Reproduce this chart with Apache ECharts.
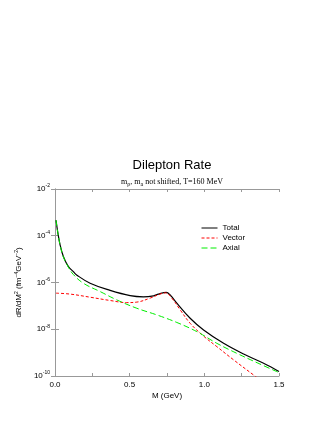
<!DOCTYPE html>
<html>
<head>
<meta charset="utf-8">
<script src="https://cdn.jsdelivr.net/npm/echarts@6/dist/echarts.min.js"></script>
<style>
  html, body { margin: 0; padding: 0; background: #fff; }
  #chart { width: 327px; height: 423px; }
</style>
</head>
<body>
<div id="chart"></div>
<script>
// values
var totalM = [0.007, 0.016, 0.034, 0.056, 0.089, 0.123, 0.145, 0.235, 0.369, 0.503, 0.592, 0.66, 0.693, 0.745, 0.771, 0.816, 0.905, 0.995, 1.129, 1.263, 1.397, 1.5];
var totalR = [4.6e-4, 1.8e-4, 4.1e-5, 1.3e-5, 4.9e-6, 2.9e-6, 2.1e-6, 9.3e-7, 4.6e-7, 2.75e-7, 2.45e-7, 2.7e-7, 3.2e-7, 3.8e-7, 2.95e-7, 1.3e-7, 2.95e-8, 9.3e-9, 2.5e-9, 8.7e-10, 3.5e-10, 1.55e-10];

var vectorM = [0.007, 0.1, 0.235, 0.369, 0.48, 0.548, 0.637, 0.704, 0.74, 0.782, 0.838, 0.905, 0.995, 1.084, 1.196, 1.33, 1.4];
var vectorR = [3.5e-7, 3.2e-7, 2.35e-7, 1.7e-7, 1.38e-7, 1.45e-7, 2.15e-7, 3.2e-7, 3.6e-7, 2.15e-7, 6.8e-8, 1.8e-8, 5.1e-9, 1.8e-9, 4.9e-10, 1.1e-10, 5e-11];

var axialM = [0.007, 0.016, 0.034, 0.056, 0.089, 0.123, 0.19, 0.302, 0.414, 0.548, 0.682, 0.816, 0.95, 1.084, 1.218, 1.353, 1.5];
var axialR = [4.6e-4, 1.8e-4, 4.1e-5, 1.26e-5, 4.6e-6, 2.2e-6, 9.3e-7, 4.1e-7, 1.8e-7, 7.9e-8, 4.1e-8, 1.95e-8, 7.9e-9, 2.5e-9, 9.3e-10, 3.7e-10, 1.4e-10];

var seriesNames = ['Total', 'Vector', 'Axial'];

function pairs(xs, ys) {
  return xs.map(function (x, i) { return [x, ys[i]]; });
}

var sans = 'Liberation Sans';
var frameColor = '#999';

var myChart = echarts.init(document.getElementById('chart'));

myChart.setOption({
  animation: false,
  backgroundColor: '#fff',
  title: [{
    text: 'Dilepton Rate',
    left: 167,
    top: 154,
    textAlign: 'center',
    textStyle: { fontFamily: sans, fontSize: 13, fontWeight: 'normal', color: '#000' }
  }, {
    text: 'm{s|ρ}, m{s|a} not shifted, T=160 MeV',
    left: 167,
    top: 172,
    textAlign: 'center',
    textStyle: {
      fontFamily: 'Liberation Serif', fontSize: 8, fontWeight: 'normal', color: '#000',
      rich: { s: { fontFamily: 'Liberation Serif', fontSize: 6, padding: [4, 0, 0, 0] } }
    }
  }],
  legend: {
    orient: 'vertical',
    left: 196,
    top: 219,
    itemWidth: 16,
    itemHeight: 8,
    itemGap: 2,
    itemStyle: { opacity: 0 },
    lineStyle: { width: 1 },
    textStyle: { fontFamily: sans, fontSize: 8, color: '#000' },
    data: seriesNames
  },
  grid: { left: 55, right: 48, top: 189, bottom: 47 },
  xAxis: [{
    type: 'value',
    min: 0, max: 1.5, interval: 0.25,
    name: 'M (GeV)',
    nameLocation: 'middle',
    nameGap: 16,
    nameTextStyle: { fontFamily: sans, fontSize: 8, color: '#000' },
    axisLine: { lineStyle: { color: frameColor } },
    axisTick: { inside: true, length: 3, lineStyle: { color: frameColor } },
    axisLabel: {
      fontFamily: sans, fontSize: 8, color: '#000', margin: 5,
      formatter: function (v) { return Math.abs(v * 2 - Math.round(v * 2)) < 1e-6 ? v.toFixed(1) : ''; }
    },
    splitLine: { show: false }
  }, {
    type: 'value', position: 'top',
    min: 0, max: 1.5, interval: 0.25,
    axisLine: { show: true, lineStyle: { color: frameColor } },
    axisTick: { inside: true, length: 3, lineStyle: { color: frameColor } },
    axisLabel: { show: false },
    splitLine: { show: false }
  }],
  yAxis: [{
    type: 'log', logBase: 10,
    min: 1e-10, max: 1e-2, interval: 2,
    name: 'dR/dM{p|2} (fm{p|−4}GeV{p|−2})',
    nameLocation: 'middle',
    nameGap: 19,
    nameTextStyle: {
      fontFamily: sans, fontSize: 8, color: '#000',
      rich: { p: { fontFamily: sans, fontSize: 5, padding: [0, 0, 5, 0] } }
    },
    axisLine: { show: true, lineStyle: { color: frameColor } },
    axisTick: { inside: true, length: 4, lineStyle: { color: frameColor } },
    axisLabel: {
      fontFamily: sans, fontSize: 8, color: '#000', margin: 5,
      formatter: function (v) {
        var e = Math.round(Math.log10(v));
        return '10{e|' + e + '}';
      },
      rich: { e: { fontFamily: sans, fontSize: 5, padding: [0, 0, 6, 0] } }
    },
    splitLine: { show: false }
  }, {
    type: 'log', logBase: 10, position: 'right',
    min: 1e-10, max: 1e-2, interval: 2,
    axisLine: { show: true, lineStyle: { color: frameColor } },
    axisTick: { inside: true, length: 4, lineStyle: { color: frameColor } },
    axisLabel: { show: false },
    splitLine: { show: false }
  }],
  series: [{
    name: seriesNames[0],
    type: 'line',
    smooth: 0.4,
    symbol: 'none',
    clip: true,
    z: 3,
    itemStyle: { color: '#000' },
    lineStyle: { color: '#000', width: 1.2 },
    data: pairs(totalM, totalR)
  }, {
    name: seriesNames[1],
    type: 'line',
    smooth: 0.4,
    symbol: 'none',
    clip: true,
    itemStyle: { color: '#ff0000' },
    lineStyle: { color: '#ff0000', width: 1, type: [3, 2] },
    data: pairs(vectorM, vectorR)
  }, {
    name: seriesNames[2],
    type: 'line',
    smooth: 0.4,
    symbol: 'none',
    clip: true,
    itemStyle: { color: '#00ee00' },
    lineStyle: { color: '#00ee00', width: 1, type: [6, 3] },
    data: pairs(axialM, axialR)
  }]
});

window.addEventListener('resize', function () {
  myChart.resize();
});
</script>
</body>
</html>
